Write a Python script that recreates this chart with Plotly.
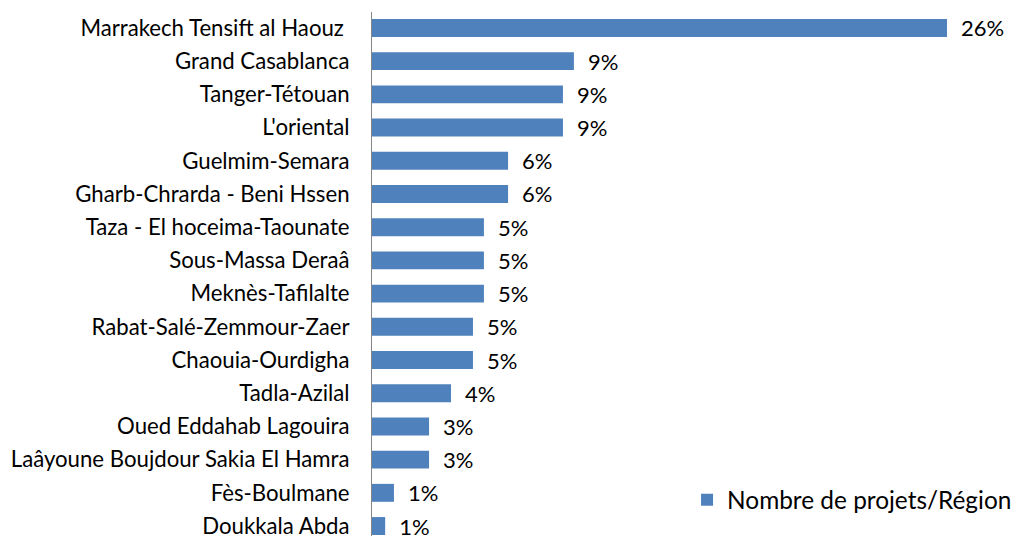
import plotly.graph_objects as go

regions = [
    "Marrakech Tensift al Haouz\u00a0",
    "Grand Casablanca",
    "Tanger-Tétouan",
    "L'oriental",
    "Guelmim-Semara",
    "Gharb-Chrarda - Beni Hssen",
    "Taza - El hoceima-Taounate",
    "Sous-Massa Deraâ",
    "Meknès-Tafilalte",
    "Rabat-Salé-Zemmour-Zaer",
    "Chaouia-Ourdigha",
    "Tadla-Azilal",
    "Oued Eddahab Lagouira",
    "Laâyoune Boujdour Sakia El Hamra",
    "Fès-Boulmane",
    "Doukkala Abda",
]
shares = [0.262, 0.092, 0.087, 0.087, 0.062, 0.062, 0.051, 0.051, 0.051,
          0.046, 0.046, 0.036, 0.026, 0.026, 0.010, 0.006]
labels = ["26%", "9%", "9%", "9%", "6%", "6%", "5%", "5%", "5%",
          "5%", "5%", "4%", "3%", "3%", "1%", "1%"]
series_name = "Nombre de projets/Région"

FONT = "Lato, Carlito, Calibri, sans-serif"

fig = go.Figure(go.Bar(
    y=regions,
    x=shares,
    orientation="h",
    name=series_name,
    marker=dict(color="#4F81BD", line=dict(width=0)),
    text=["\u2002" + t for t in labels],
    textposition="outside",
    constraintext="none",
    textfont=dict(family=FONT, size=22, color="#000000"),
    cliponaxis=False,
    showlegend=True,
))

fig.update_layout(
    width=1019, height=536,
    margin=dict(l=372, r=0, t=12, b=0, autoexpand=False),
    paper_bgcolor="white", plot_bgcolor="white",
    font=dict(family=FONT, size=22, color="#000000"),
    bargap=0.46,
    xaxis=dict(range=[0, 0.2948], showgrid=False, showticklabels=False,
               zeroline=False, showline=False, ticks=""),
    yaxis=dict(type="category", categoryorder="array", categoryarray=regions,
               range=[15.30, -0.48], showgrid=False, zeroline=False,
               showline=True, linecolor="#868686", linewidth=1,
               ticks="", ticklabelstandoff=17,
               tickfont=dict(family=FONT, size=22.2, color="#000000")),
    legend=dict(x=0.997, xanchor="right", y=0.069, yanchor="middle",
                bgcolor="rgba(255,255,255,0)",
                font=dict(family=FONT, size=24.4, color="#000000"),
                itemwidth=30),
)

fig.write_html(
    "out.html",
    config={"displayModeBar": False},
    post_script="document.body.style.margin='0';document.body.style.overflow='hidden';",
)
